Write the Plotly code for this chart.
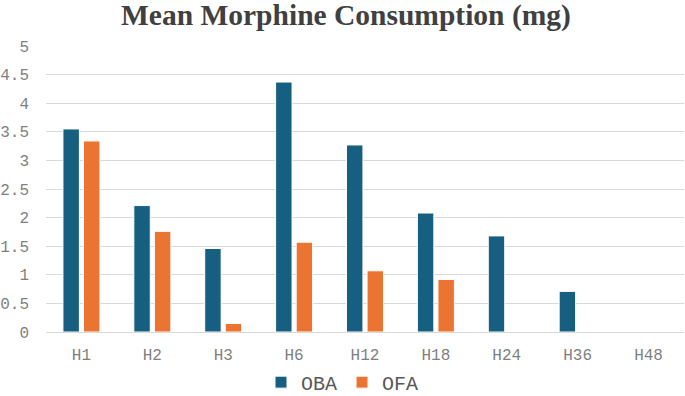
import plotly.graph_objects as go

categories = ["H1", "H2", "H3", "H6", "H12", "H18", "H24", "H36", "H48"]
oba = [3.55, 2.21, 1.46, 4.37, 3.27, 2.08, 1.68, 0.71, 0]
ofa = [3.34, 1.76, 0.15, 1.57, 1.07, 0.92, 0, 0, 0]
y_ticks = [0, 0.5, 1, 1.5, 2, 2.5, 3, 3.5, 4, 4.5, 5]
y_tick_labels = ["0", "0.5", "1", "1.5", "2", "2.5", "3", "3.5", "4", "4.5", "5"]

fig = go.Figure()
fig.add_trace(go.Bar(name="OBA", x=categories, y=oba,
                     marker=dict(color="#175F80", line=dict(color="white", width=1))))
fig.add_trace(go.Bar(name="OFA", x=categories, y=ofa,
                     marker=dict(color="#EB7433", line=dict(color="white", width=1))))

fig.update_layout(
    width=685, height=396,
    margin=dict(l=46, r=1, t=46, b=64, autoexpand=False),
    paper_bgcolor="white", plot_bgcolor="white",
    barmode="group", bargap=0.42, bargroupgap=0.2,
    title=dict(text="<b>Mean Morphine Consumption (mg)</b>", x=0.505, xanchor="center",
               xref="container", yref="container", y=0.962, yanchor="middle",
               font=dict(family="Liberation Serif", size=29.5, color="#404040")),
    legend=dict(orientation="h", x=0.5, xanchor="center", xref="container",
                yref="container", y=0.035, yanchor="middle",
                bgcolor="rgba(0,0,0,0)",
                font=dict(family="Liberation Mono", size=20, color="#595959"),
                tracegroupgap=0),
    xaxis=dict(showgrid=False, showline=True, linecolor="#d9d9d9", linewidth=1,
               tickfont=dict(family="Liberation Mono", size=16, color="#7f7f7f"),
               ticks="", ticklabelstandoff=8),
    yaxis=dict(range=[0, 5], tickvals=y_ticks, ticktext=y_tick_labels,
               showgrid=True, gridcolor="#d9d9d9", gridwidth=1, zeroline=False,
               tickfont=dict(family="Liberation Mono", size=16, color="#7f7f7f"),
               ticks="", ticklabelstandoff=16),
)

fig.write_html("out.html", config={"displayModeBar": False},
               post_script="document.body.style.margin='0';")
